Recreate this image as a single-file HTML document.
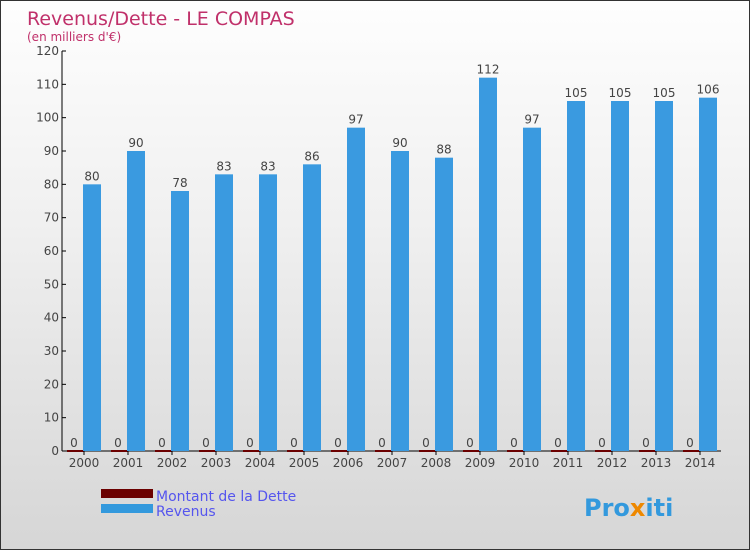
<!DOCTYPE html>
<html><head><meta charset="utf-8"><style>
body{margin:0}
#c{width:748px;height:548px;border:1px solid #333;background:linear-gradient(#fefefe,#f0f0f0 40%,#d6d6d6);position:relative;font-family:"DejaVu Sans","Liberation Sans",sans-serif}
svg{position:absolute;left:0;top:0}
</style></head><body>
<div id="c">
<svg id="s" width="750" height="550">
<text x="26" y="24" font-size="19" fill="#c0306a">Revenus/Dette - LE COMPAS</text>
<text x="26" y="40" font-size="12" fill="#c0306a">(en milliers d'€)</text>
<g id="g"></g>
<rect x="100" y="488" width="52" height="9" fill="#6b0000"/>
<rect x="100" y="503" width="52" height="9" fill="#3399dd"/>
<text x="155" y="500" font-size="14" fill="#5555ee">Montant de la Dette</text>
<text x="155" y="515" font-size="14" fill="#5555ee">Revenus</text>
<text x="583" y="515" font-size="24" font-weight="bold" fill="#3399dd">Pro<tspan fill="#ee8800">x</tspan>iti</text>
</svg>
</div>
<script>
const years=["2000","2001","2002","2003","2004","2005","2006","2007","2008","2009","2010","2011","2012","2013","2014"];
const revenus=[80,90,78,83,83,86,97,90,88,112,97,105,105,105,106];
const dette=[0,0,0,0,0,0,0,0,0,0,0,0,0,0,0];
const yTicks=[0,10,20,30,40,50,60,70,80,90,100,110,120];
const NS="http://www.w3.org/2000/svg",g=document.getElementById('g');
const y=v=>450-v*400/120, x=i=>64+44*i;
function mk(t,a,txt){const e=document.createElementNS(NS,t);for(const k in a)e.setAttribute(k,a[k]);if(txt!==undefined)e.textContent=txt;g.appendChild(e);return e;}
let e=mk('line',{x1:61,y1:50,x2:61,y2:450,stroke:'#000'});


e=mk('line',{x1:61,y1:450,x2:720,y2:450,stroke:'#000'});


yTicks.forEach(v=>{
 e=mk('line',{x1:61,x2:65,y1:y(v),y2:y(v),stroke:'#000'});
 
 
 e=mk('text',{x:58,y:y(v)+4,'font-size':12,fill:'#444','text-anchor':'end'},v);
 
 
});
years.forEach((yr,i)=>{
 e=mk('rect',{x:x(i)+2,y:y(dette[i])-1,width:17,height:Math.max(2,450-y(dette[i])),fill:'#6b0000'});
 
 
 e=mk('text',{x:x(i)+9,y:y(dette[i])-4,'font-size':12,fill:'#444','text-anchor':'middle'},dette[i]);
 
 
 e=mk('rect',{x:x(i)+18,y:y(revenus[i]),width:18,height:450-y(revenus[i]),fill:'#3a9ae0'});
 
 
 e=mk('text',{x:x(i)+27,y:y(revenus[i])-4,'font-size':12,fill:'#444','text-anchor':'middle'},revenus[i]);
 
 
 e=mk('line',{x1:x(i)+19,x2:x(i)+19,y1:450,y2:454,stroke:'#000'});
 
 
 e=mk('text',{x:x(i)+19,y:466,'font-size':12,fill:'#444','text-anchor':'middle'},yr);
 
 
});
</script>
</body></html>
